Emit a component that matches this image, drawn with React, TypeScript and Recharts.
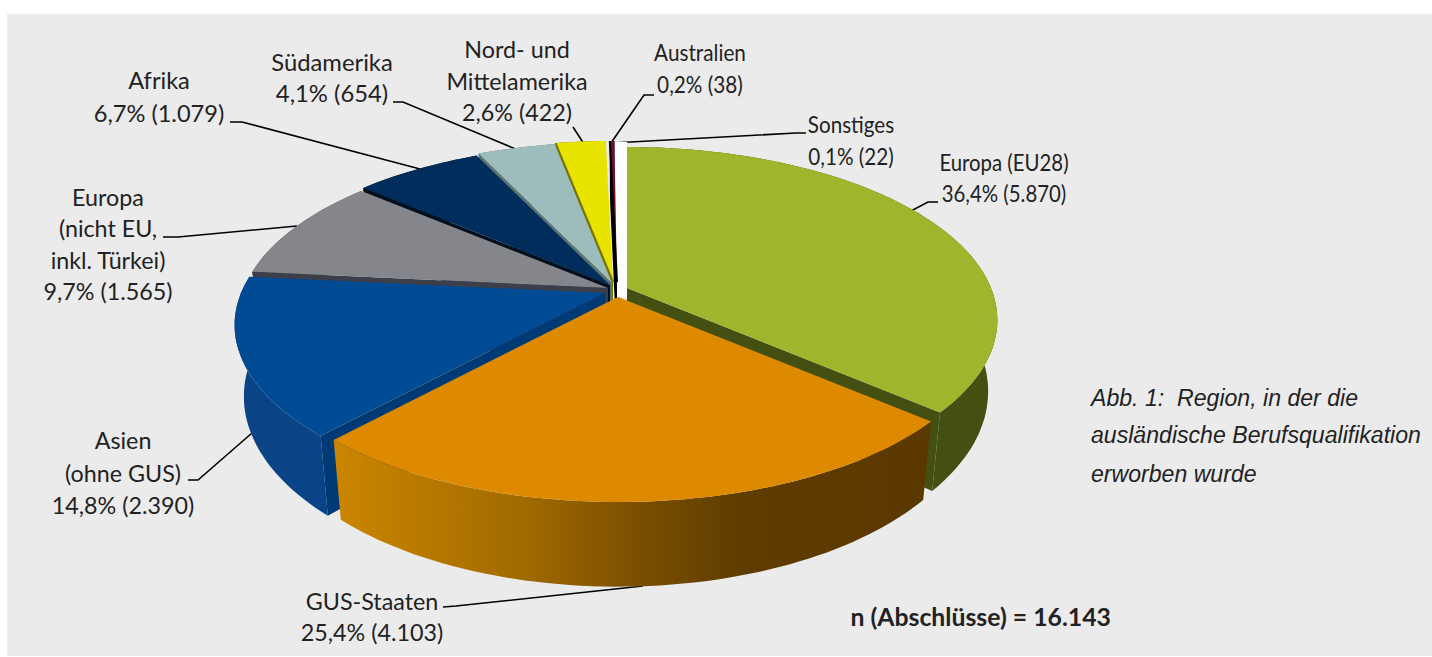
import { PieChart, Pie } from "recharts";

// Werte aus der Abbildung
const regions = [
  "Europa (EU28)",
  "GUS-Staaten",
  "Asien (ohne GUS)",
  "Europa (nicht EU, inkl. Türkei)",
  "Afrika",
  "Südamerika",
  "Nord- und Mittelamerika",
  "Australien",
  "Sonstiges",
];
const counts = [5870, 4103, 2390, 1565, 1079, 654, 422, 38, 22];
const shares = ["36,4%", "25,4%", "14,8%", "9,7%", "6,7%", "4,1%", "2,6%", "0,2%", "0,1%"];
const labelHeads = [
  ["Europa (EU28)"],
  ["GUS-Staaten"],
  ["Asien", "(ohne GUS)"],
  ["Europa", "(nicht EU,", "inkl. Türkei)"],
  ["Afrika"],
  ["Südamerika"],
  ["Nord- und", "Mittelamerika"],
  ["Australien"],
  ["Sonstiges"],
];

const rows = regions.map((name, i) => ({ name, value: counts[i] }));

// Zeichenreihenfolge: hinten nach vorne
const drawOrder = [8, 6, 7, 5, 4, 3, 2, 0, 1].map((i) => regions[i]);

// Darstellung je Segment: Versatz, Farben
const sliceStyles: Record<string, any> = {
  "Europa (EU28)": { dx: 14, dy: 3, top: "#9fb52c", side: "#435012", cut: "#435012" },
  "GUS-Staaten": { dx: 5, dy: 12, top: "#de8a00", side: "url(#gusSide)", cut: "#5a3a00" },
  "Asien (ohne GUS)": { dx: -8, dy: 8, top: "#004b94", side: "#0a4487", cut: "#003a75" },
  "Europa (nicht EU, inkl. Türkei)": { dx: -5, dy: 3, top: "#85868c", side: "#3c3f4a", cut: "#3c3f4a" },
  Afrika: { dx: -3, dy: 0, top: "#012d5c", side: "#05101f", cut: "#05101f" },
  "Südamerika": { dx: -1, dy: -2, top: "#9dbcbc", side: "#5d7474", cut: "#5d7474" },
  "Nord- und Mittelamerika": { dx: 0, dy: -3, top: "#e9e300", side: "#77750a", cut: "#77750a", edge: "#77750a" },
  Australien: { dx: 4, dy: -3, top: "#6a1026", side: "#000", cut: "#000", edge: "#000" },
  Sonstiges: { dx: 4, dy: -2, top: "#ffffff", side: "#ffffff", cut: "#ffffff", gap: 13 },
};

const RAD = Math.PI / 180;
const TILT = 0.459;
const PERSP = 0.185;
const DEPTH = 69;
const BOTTOM_SCALE = 0.975;

function project(theta: number, ox: number, oy: number, r: number, rr = 1) {
  const u = Math.sin(theta * RAD) * rr;
  const v = -Math.cos(theta * RAD) * rr;
  const p = 1 / (1 - PERSP * v);
  return { x: ox + r * u * p, y: oy + r * TILT * v * p, p };
}

function lower(pt: { x: number; y: number; p: number }, ox: number) {
  return { x: ox + (pt.x - ox) * BOTTOM_SCALE, y: pt.y + DEPTH * pt.p, p: pt.p };
}

const toPath = (pts: { x: number; y: number }[]) =>
  "M" + pts.map((q) => `${q.x.toFixed(1)},${q.y.toFixed(1)}`).join("L") + "Z";

function Slice3D(props: any) {
  const { cx, cy, outerRadius, startAngle, endAngle, name } = props;
  const st = sliceStyles[name];
  const ox = cx + st.dx;
  const oy = cy + st.dy;
  const a0 = 90 - startAngle;
  const a1 = 90 - endAngle;

  const rim: { x: number; y: number; p: number }[] = [];
  const steps = Math.max(2, Math.ceil((a1 - a0) / 1.5));
  for (let i = 0; i <= steps; i++) {
    rim.push(project(a0 + ((a1 - a0) * i) / steps, ox, oy, outerRadius));
  }
  const apex = { x: ox, y: oy, p: 1 };
  const first = rim[0];
  const last = rim[rim.length - 1];
  const cutAt = a0 > 180 ? first : a1 < 180 ? last : null;

  return (
    <g>
      {name === "GUS-Staaten" && (
        <defs>
          <linearGradient id="gusSide" gradientUnits="userSpaceOnUse" x1="335" x2="930" y1="0" y2="0">
            <stop offset="0" stopColor="#cb8600" />
            <stop offset="0.15" stopColor="#b87900" />
            <stop offset="0.32" stopColor="#a06a00" />
            <stop offset="0.5" stopColor="#7c5000" />
            <stop offset="0.68" stopColor="#5f3d00" />
            <stop offset="1" stopColor="#5a3800" />
          </linearGradient>
        </defs>
      )}
      {st.gap ? (
        <path
          d={toPath([
            { x: first.x, y: first.y },
            { x: first.x + st.gap, y: first.y },
            { x: first.x + st.gap, y: oy + 14 },
            { x: first.x, y: oy + 14 },
          ])}
          fill={st.top}
        />
      ) : (
        <path d={toPath([...rim, ...rim.map((q) => lower(q, ox)).reverse()])} fill={st.side} />
      )}
      {cutAt && !st.gap && (
        <path d={toPath([apex, cutAt, lower(cutAt, ox), lower(apex, ox)])} fill={st.cut} />
      )}
      <path d={toPath([apex, ...rim])} fill={st.top} />
      {st.edge && <line x1={ox} y1={oy} x2={first.x} y2={first.y} stroke={st.edge} strokeWidth={2} />}
    </g>
  );
}

// Beschriftung: Position (Mitte, erste Grundlinie, Zeilenabstand, Schriftgröße, Breite) je Region
const labelPos = [
  [1004, 171, 31.5, 23.3, 0.875],
  [372, 610, 31, 23.3, 1],
  [123, 449, 32.5, 23.3, 1],
  [108, 206, 31.3, 23.3, 1],
  [159, 89, 33, 23.6, 1],
  [332, 71, 31, 23.8, 1],
  [517, 58, 31.5, 23.3, 1],
  [700, 61, 32, 23.3, 0.89],
  [851, 133, 32, 23.3, 0.885],
];
const leaderLines = [
  "M938,202 L928,202 L890,222",
  "M443,607 L456,606 L643,586",
  "M188,480 L198,480 L252,433",
  "M163,237 L178,237 L297,226",
  "M230,122 L242,122 L420,169",
  "M393,102 L403,102 L518,150",
  "M573,127 L584,144",
  "M654,95 L644,95 L611,143",
  "M806,133 L796,133 L612,143",
];

const captionLines = ["Abb. 1:  Region, in der die", "ausländische Berufsqualifikation", "erworben wurde"];
const captionY = [406, 443, 482];

const LABEL_FONT = "Lato, 'Open Sans', sans-serif";

function Annotations() {
  return (
    <g>
      {leaderLines.map((d, i) => (
        <path key={i} d={d} fill="none" stroke="#000" strokeWidth={1.6} />
      ))}
      {regions.map((region, i) => {
        const [x, y, lh, size, stretch] = labelPos[i];
        const lines = [...labelHeads[i], `${shares[i]} (${counts[i].toLocaleString("de-DE")})`];
        return (
          <text
            key={region}
            transform={`translate(${x},0) scale(${stretch},1)`}
            textAnchor="middle"
            fontFamily={LABEL_FONT}
            fontSize={size}
            fill="#222"
          >
            {lines.map((line, j) => (
              <tspan key={j} x={0} y={y + j * lh}>
                {line}
              </tspan>
            ))}
          </text>
        );
      })}
      <text x={1111} y={626} textAnchor="end" fontFamily={LABEL_FONT} fontWeight={700} fontSize={24.8} fill="#222">
        n (Abschlüsse) = 16.143
      </text>
      {captionLines.map((line, i) => (
        <text
          key={i}
          x={1091}
          y={captionY[i]}
          fontFamily="'Liberation Sans', sans-serif"
          fontStyle="italic"
          fontSize={23.1}
          fill="#222"
          style={{ whiteSpace: "pre" }}
        >
          {line}
        </text>
      ))}
    </g>
  );
}

export default function App() {
  return (
    <div style={{ position: "absolute", left: 0, top: 0, width: 1432, height: 657, background: "#fff" }}>
      <div style={{ position: "absolute", left: 7, top: 14, width: 1425, height: 642, background: "#ebebeb" }} />
      <div style={{ position: "absolute", left: 0, top: 0 }}>
        <PieChart width={1432} height={657} margin={{ top: 0, right: 0, bottom: 0, left: 0 }}>
          {drawOrder.map((region) => {
            const draw = (p: any) => (p.name === region ? <Slice3D {...p} /> : <g />);
            return (
              <Pie
                key={region}
                data={rows}
                dataKey="value"
                nameKey="name"
                cx={613}
                cy={285}
                outerRadius={364}
                startAngle={90}
                endAngle={-270}
                stroke="none"
                isAnimationActive={false}
                shape={draw}
                activeShape={draw}
                inactiveShape={draw}
              />
            );
          })}
          <Annotations />
        </PieChart>
      </div>
    </div>
  );
}
